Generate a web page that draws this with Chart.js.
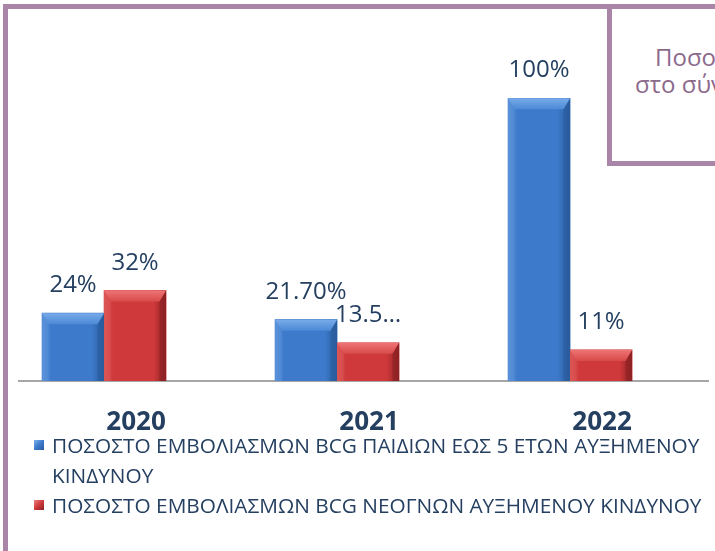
<!DOCTYPE html>
<html><head><meta charset="utf-8">
<script src="https://cdn.jsdelivr.net/npm/chart.js@4.4.1/dist/chart.umd.min.js"></script>
<style>
html,body{margin:0;padding:0;width:715px;height:551px;overflow:hidden;background:#fff;}
#wrap{position:relative;width:715px;height:551px;overflow:hidden;}
#frame{position:absolute;left:3px;top:4px;width:800px;height:700px;border:5px solid #a985a8;box-sizing:border-box;}
#c{position:absolute;left:0;top:0;}
#box{position:absolute;left:607px;top:4px;width:300px;height:162px;border:5px solid #a985a8;box-sizing:border-box;background:#fff;font-family:'Open Sans',sans-serif;font-size:24px;color:#8c6a8c;white-space:nowrap;line-height:27px;}
#box .l1{position:absolute;left:43px;top:34px;}
#box .l2{position:absolute;left:23px;top:61px;}
#legend{position:absolute;left:34px;top:430px;font-family:'Open Sans',sans-serif;font-size:20.8px;color:#243f60;line-height:30px;}
.item{display:flex;align-items:flex-start;}
.mk{width:10px;height:10px;margin-top:10px;margin-right:8px;flex:none;}
.txt{width:658px;}
</style></head>
<body><div id="wrap">
<div id="frame"></div>
<canvas id="c" width="715" height="551"></canvas>
<div id="box"><div class="l1">Ποσοστό</div><div class="l2">στο σύνολο</div></div>
<div id="legend"></div>
</div>
<script>
const categories = ['2020', '2021', '2022'];
const years = [2020, 2021, 2022];
const seriesNames = [
  'ΠΟΣΟΣΤΟ ΕΜΒΟΛΙΑΣΜΩΝ BCG ΠΑΙΔΙΩΝ ΕΩΣ 5 ΕΤΩΝ ΑΥΞΗΜΕΝΟΥ ΚΙΝΔΥΝΟΥ',
  'ΠΟΣΟΣΤΟ ΕΜΒΟΛΙΑΣΜΩΝ BCG ΝΕΟΓΝΩΝ ΑΥΞΗΜΕΝΟΥ ΚΙΝΔΥΝΟΥ'
];
const childrenValues = [24, 21.7, 100];
const newbornValues = [32, 13.5, 11];
const childrenLabels = ['24%', '21.70%', '100%'];
const newbornLabels = ['32%', '13.5…', '11%'];

const palettes = [
  {main:'#3d7acb', top1:'#78abe9', top2:'#4c89d6', left:'#5a92da', right:'#2a5b9c', mk1:'#7fb2ee', mk2:'#2a5b9c'},
  {main:'#cf393b', top1:'#ee7474', top2:'#d84a4a', left:'#dc5656', right:'#8c2123', mk1:'#f08080', mk2:'#8c2123'}
];
const valueLabels = [childrenLabels, newbornLabels];

const bevelPlugin = {
  id: 'bevel',
  afterDatasetsDraw(chart) {
    const ctx = chart.ctx;
    chart.data.datasets.forEach((ds, di) => {
      const meta = chart.getDatasetMeta(di);
      const p = palettes[di];
      meta.data.forEach((el, i) => {
        const {x, y, base, width} = el.getProps(['x','y','base','width'], true);
        const l = x - width/2, r = x + width/2, t = y, b = base;
        const h = b - t;
        const bv = Math.min(11, h/2);
        ctx.save();
        const g = ctx.createLinearGradient(l, 0, r, 0);
        g.addColorStop(0, p.left); g.addColorStop(0.15, p.main);
        g.addColorStop(0.8, p.main); g.addColorStop(1, p.right);
        ctx.fillStyle = g;
        ctx.fillRect(l, t, width, h);
        ctx.fillStyle = p.left;
        ctx.beginPath(); ctx.moveTo(l, t); ctx.lineTo(l+bv*0.6, t+bv); ctx.lineTo(l+bv*0.6, b); ctx.lineTo(l, b); ctx.closePath();
        ctx.globalAlpha = 0.5; ctx.fill(); ctx.globalAlpha = 1;
        ctx.fillStyle = p.right;
        ctx.beginPath(); ctx.moveTo(r, t); ctx.lineTo(r-bv*0.6, t+bv); ctx.lineTo(r-bv*0.6, b); ctx.lineTo(r, b); ctx.closePath();
        ctx.globalAlpha = 0.6; ctx.fill(); ctx.globalAlpha = 1;
        const tg = ctx.createLinearGradient(0, t, 0, t+bv);
        tg.addColorStop(0, p.top1); tg.addColorStop(1, p.top2);
        ctx.fillStyle = tg;
        ctx.beginPath(); ctx.moveTo(l, t); ctx.lineTo(r, t); ctx.lineTo(r-bv*0.6, t+bv); ctx.lineTo(l+bv*0.6, t+bv); ctx.closePath();
        ctx.fill();
        ctx.fillStyle = '#243f60';
        ctx.font = '24px "Open Sans"';
        ctx.textAlign = 'center';
        ctx.textBaseline = 'alphabetic';
        ctx.fillText(valueLabels[di][i], x, t - 21);
        ctx.restore();
      });
    });
  }
};

const chart = new Chart(document.getElementById('c'), {
  type: 'bar',
  data: {
    datasets: [
      { label: seriesNames[0], data: years.map((yr, i) => ({x: yr, y: childrenValues[i]})), backgroundColor: palettes[0].main, borderWidth: 0 },
      { label: seriesNames[1], data: years.map((yr, i) => ({x: yr, y: newbornValues[i]})), backgroundColor: palettes[1].main, borderWidth: 0 }
    ]
  },
  options: {
    responsive: false,
    devicePixelRatio: 1,
    animation: false,
    barThickness: 62,
    layout: { padding: { left: 19, right: 7, top: 70, bottom: 0 } },
    plugins: { legend: { display: false }, tooltip: { enabled: false } },
    scales: {
      x: {
        type: 'linear',
        offset: false,
        bounds: 'data',
        min: 2019.635, max: 2022.592,
        grid: { display: false, drawTicks: false, offset: false },
        border: { display: true, color: '#a6a6a6', width: 2 },
        ticks: {
          maxRotation: 0, autoSkip: false,
          labelOffset: 32, padding: 26,
          color: '#243f60', font: { family: 'Open Sans', size: 26, weight: 'bold' },
          callback: (v) => { const k = years.indexOf(v); return k >= 0 ? categories[k] : ''; }
        },
        afterBuildTicks: (s) => { s.ticks = years.map(v => ({ value: v })); },
        afterFit: (s) => { s.height = 170; s.paddingLeft = 0; s.paddingRight = 0; }
      },
      y: { display: false, min: 0, max: 110 }
    }
  },
  plugins: [bevelPlugin]
});

const leg = document.getElementById('legend');
chart.data.datasets.forEach((ds, i) => {
  const it = document.createElement('div'); it.className = 'item';
  const mk = document.createElement('span'); mk.className = 'mk';
  mk.style.background = `linear-gradient(135deg, ${palettes[i].mk1}, ${palettes[i].main} 50%, ${palettes[i].mk2})`;
  const tx = document.createElement('span'); tx.className = 'txt'; tx.textContent = ds.label;
  it.appendChild(mk); it.appendChild(tx); leg.appendChild(it);
});
</script>
</body></html>
